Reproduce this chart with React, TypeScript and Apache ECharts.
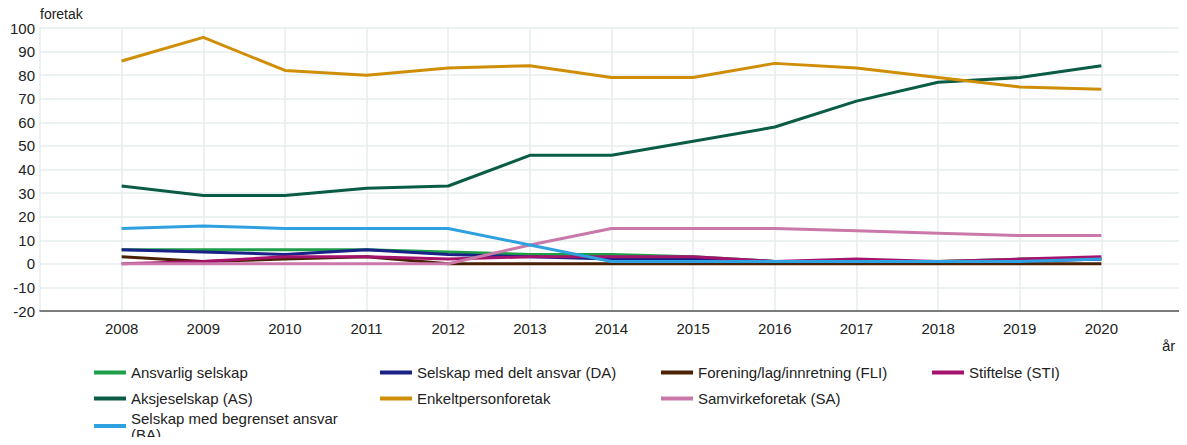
import React, { useEffect, useRef } from "react";
import * as echarts from "echarts";

const years = [2008, 2009, 2010, 2011, 2012, 2013, 2014, 2015, 2016, 2017, 2018, 2019, 2020];

const seriesNames = [
  "Ansvarlig selskap",
  "Selskap med delt ansvar (DA)",
  "Forening/lag/innretning (FLI)",
  "Stiftelse (STI)",
  "Aksjeselskap (AS)",
  "Enkeltpersonforetak",
  "Samvirkeforetak (SA)",
  "Selskap med begrenset ansvar (BA)",
];

const ansvarlig = [6, 6, 6, 6, 5, 4, 4, 3, 1, 1, 1, 2, 2];
const delt = [6, 5, 4, 6, 4, 3, 2, 2, 1, 1, 1, 1, 2];
const forening = [3, 1, 2, 3, 0, 0, 0, 0, 0, 0, 0, 0, 0];
const stiftelse = [0, 1, 3, 3, 2, 3, 3, 3, 1, 2, 1, 2, 3];
const aksje = [33, 29, 29, 32, 33, 46, 46, 52, 58, 69, 77, 79, 84];
const enkelt = [86, 96, 82, 80, 83, 84, 79, 79, 85, 83, 79, 75, 74];
const samvirke = [0, 0, 0, 0, 0, 8, 15, 15, 15, 14, 13, 12, 12];
const begrenset = [15, 16, 15, 15, 15, 8, 1, 1, 1, 1, 1, 1, 2];

const values = [ansvarlig, delt, forening, stiftelse, aksje, enkelt, samvirke, begrenset];
const colors = ["#1f9e4a", "#1a2187", "#4a2103", "#a6136c", "#0b5c47", "#cf8e06", "#c978a9", "#2fa1e0"];

// legend placement (icon left, top)
const legendPos = [
  [94, 364], [380, 364], [661, 364], [932, 364],
  [94, 390], [380, 390], [661, 390],
  [94, 410],
];

export default function App() {
  const ref = useRef<HTMLDivElement>(null);
  useEffect(() => {
    if (!ref.current) return;
    const chart = echarts.init(ref.current, undefined, { renderer: "svg" });
    const font = "Liberation Sans, Arial, sans-serif";
    chart.setOption({
      animation: false,
      textStyle: { fontFamily: font },
      grid: { left: 40, right: 4, top: 28, bottom: 134 },
      xAxis: {
        type: "value",
        min: 2007,
        max: 2021,
        interval: 1,
        axisTick: { show: false },
        axisLine: { show: true, onZero: false, lineStyle: { color: "#555", width: 1.5 } },
        splitLine: { show: true, lineStyle: { color: "#e6eded", width: 1.5 } },
        axisLabel: {
          color: "#222",
          fontSize: 15,
          margin: 10,
          formatter: (v: number) => (v === 2007 || v === 2021 ? "" : String(v)),
        },
      },
      yAxis: {
        type: "value",
        min: -20,
        max: 100,
        interval: 10,
        name: "foretak",
        nameLocation: "end",
        nameGap: 6,
        nameTextStyle: { color: "#222", fontSize: 14, align: "left" },
        axisLine: { show: false },
        axisTick: { show: false },
        splitLine: { show: true, lineStyle: { color: "#e6eded", width: 1.5 } },
        axisLabel: { color: "#222", fontSize: 15, margin: 5 },
      },
      legend: seriesNames.map((n, i) => ({
        data: [n],
        left: legendPos[i][0],
        top: legendPos[i][1],
        orient: "horizontal",
        icon: "rect",
        itemWidth: 32,
        itemHeight: 4,
        padding: 0,
        textStyle: { color: "#222", fontSize: 15, fontFamily: font, lineHeight: i === 7 ? 16 : 17 },
        formatter: (name: string) =>
          name === "Selskap med begrenset ansvar (BA)" ? "Selskap med begrenset ansvar\n(BA)" : name,
      })),
      graphic: [
        {
          type: "text",
          left: 1162,
          top: 338,
          style: { text: "år", fill: "#222", fontSize: 15, fontFamily: font },
        },
      ],
      series: seriesNames.map((n, i) => ({
        name: n,
        type: "line",
        data: years.map((y, j) => [y, values[i][j]]),
        symbol: "none",
        lineStyle: { width: 3, color: colors[i] },
        itemStyle: { color: colors[i] },
      })),
    });
    return () => chart.dispose();
  }, []);
  return <div ref={ref} style={{ width: 1187, height: 445, margin: -8 }} />;
}
